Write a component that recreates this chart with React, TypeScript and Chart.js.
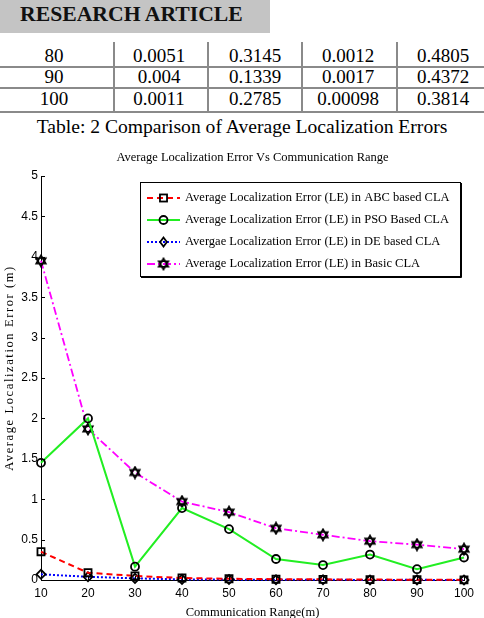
import React, { useEffect, useRef } from 'react';
import { Chart, registerables } from 'chart.js';

Chart.register(...registerables);

// ---------- data ----------
const ranges = [10, 20, 30, 40, 50, 60, 70, 80, 90, 100];
const abcErrors = [0.35, 0.09, 0.05, 0.025, 0.015, 0.01, 0.008, 0.0051, 0.004, 0.0011];
const psoErrors = [1.45, 2.0, 0.165, 0.89, 0.63, 0.26, 0.185, 0.3145, 0.1339, 0.2785];
const deErrors = [0.07, 0.04, 0.02, 0.008, 0.005, 0.003, 0.002, 0.0012, 0.0017, 0.00098];
const basicErrors = [3.95, 1.87, 1.33, 0.97, 0.84, 0.64, 0.56, 0.4805, 0.4372, 0.3814];

const seriesLabels = [
  'Average Localization Error (LE) in ABC based CLA',
  'Average Localization Error (LE) in PSO Based CLA',
  'Avergae Localization Error (LE) in DE based CLA',
  'Average Localization Error (LE) in Basic CLA',
];

const tableRows = [
  ['80', '0.0051', '0.3145', '0.0012', '0.4805'],
  ['90', '0.004', '0.1339', '0.0017', '0.4372'],
  ['100', '0.0011', '0.2785', '0.00098', '0.3814'],
];

const headerText = 'RESEARCH ARTICLE';
const captionText = 'Table: 2 Comparison of Average Localization Errors';
const chartTitle = 'Average Localization Error Vs Communication Range';
const xTitle = 'Communication Range(m)';
const yTitle = 'Average Localization Error (m)';

const SERIF = "'Liberation Serif', 'Times New Roman', serif";
const SANS = "'Liberation Sans', Arial, sans-serif";

// ---------- helpers ----------
function makeHexagram(): HTMLCanvasElement {
  const c = document.createElement('canvas');
  c.width = 14;
  c.height = 14;
  const g = c.getContext('2d')!;
  const cx = 7, cy = 7, R = 5.5;
  g.strokeStyle = '#000';
  g.lineWidth = 1.7;
  const tri = (start: number) => {
    g.beginPath();
    for (let k = 0; k < 3; k++) {
      const a = start + (k * 2 * Math.PI) / 3;
      const px = cx + R * Math.cos(a);
      const py = cy + R * Math.sin(a);
      if (k === 0) g.moveTo(px, py);
      else g.lineTo(px, py);
    }
    g.closePath();
    g.stroke();
  };
  tri(-Math.PI / 2);
  tri(Math.PI / 2);
  return c;
}

function drawMarker(ctx: CanvasRenderingContext2D, style: any, x: number, y: number, r: number) {
  ctx.save();
  ctx.strokeStyle = '#000';
  ctx.lineWidth = 1.8;
  ctx.setLineDash([]);
  if (style === 'rect') {
    const s = r * Math.SQRT1_2;
    ctx.strokeRect(x - s, y - s, 2 * s, 2 * s);
  } else if (style === 'circle') {
    ctx.beginPath();
    ctx.arc(x, y, r, 0, Math.PI * 2);
    ctx.stroke();
  } else if (style === 'rectRot') {
    ctx.beginPath();
    ctx.moveTo(x, y - r);
    ctx.lineTo(x + r * 0.75, y);
    ctx.lineTo(x, y + r);
    ctx.lineTo(x - r * 0.75, y);
    ctx.closePath();
    ctx.stroke();
  } else if (style instanceof HTMLCanvasElement) {
    ctx.drawImage(style, x - style.width / 2, y - style.height / 2);
  }
  ctx.restore();
}

const decorPlugin = {
  id: 'decor',
  afterDraw(chart: any) {
    const ctx: CanvasRenderingContext2D = chart.ctx;
    const { left, top, bottom } = chart.chartArea;
    const xs = chart.scales.x;
    const ys = chart.scales.y;
    ctx.save();
    // inward tick marks
    ctx.strokeStyle = '#000';
    ctx.lineWidth = 1;
    ctx.beginPath();
    ys.ticks.forEach((t: any) => {
      const y = Math.round(ys.getPixelForValue(t.value)) + 0.5;
      ctx.moveTo(left, y);
      ctx.lineTo(left + 4, y);
    });
    xs.ticks.forEach((t: any) => {
      const x = Math.round(xs.getPixelForValue(t.value)) + 0.5;
      ctx.moveTo(x, bottom);
      ctx.lineTo(x, bottom - 4);
    });
    ctx.stroke();

    // y axis title (letter spaced)
    ctx.save();
    ctx.translate(10, (top + bottom) / 2 - 10);
    ctx.rotate(-Math.PI / 2);
    ctx.font = `12.5px ${SERIF}`;
    (ctx as any).letterSpacing = '1.6px';
    ctx.textAlign = 'center';
    ctx.textBaseline = 'middle';
    ctx.fillStyle = '#000';
    ctx.fillText(yTitle, 0, 0);
    ctx.restore();

    // legend box
    const bx = 140, by = 42, bw = 320, bh = 94;
    ctx.fillStyle = '#fff';
    ctx.fillRect(bx, by, bw, bh);
    ctx.strokeStyle = '#000';
    ctx.lineWidth = 1;
    ctx.strokeRect(bx + 0.5, by + 0.5, bw, bh);
    ctx.beginPath();
    ctx.moveTo(bx + bw + 1.5, by + 1);
    ctx.lineTo(bx + bw + 1.5, by + bh + 1.5);
    ctx.lineTo(bx + 1, by + bh + 1.5);
    ctx.stroke();

    const rowYs = [58, 80, 102, 124];
    chart.data.datasets.forEach((ds: any, i: number) => {
      const y = rowYs[i];
      ctx.save();
      ctx.strokeStyle = ds.borderColor;
      ctx.lineWidth = ds.borderWidth;
      ctx.setLineDash(ds.borderDash || []);
      ctx.beginPath();
      ctx.moveTo(147, y);
      ctx.lineTo(180, y);
      ctx.stroke();
      ctx.restore();
      drawMarker(ctx, ds.pointStyle, 163.5, y, ds.pointRadius);
      ctx.fillStyle = '#000';
      ctx.font = `12.5px ${SERIF}`;
      ctx.textAlign = 'left';
      ctx.textBaseline = 'middle';
      ctx.fillText(ds.label, 185, y);
    });
    ctx.restore();
  },
};

function ChartView() {
  const ref = useRef<HTMLCanvasElement | null>(null);
  useEffect(() => {
    if (!ref.current) return;
    const hex = makeHexagram();
    const mk = (label: string, data: number[], color: string, dash: number[], pointStyle: any, radius: number, width: number) => ({
      label,
      data: ranges.map((x, i) => ({ x, y: data[i] })),
      borderColor: color,
      borderWidth: width,
      borderDash: dash,
      pointStyle,
      pointRadius: radius,
      pointBorderColor: '#000',
      pointBorderWidth: 1.8,
      pointBackgroundColor: 'rgba(0,0,0,0)',
      tension: 0,
      fill: false,
      clip: false as any,
    });
    const chart = new Chart(ref.current, {
      type: 'line',
      data: {
        datasets: [
          mk(seriesLabels[0], abcErrors, '#ff0000', [6, 4], 'rect', 5, 2),
          mk(seriesLabels[1], psoErrors, '#22ee22', [], 'circle', 4, 2),
          mk(seriesLabels[2], deErrors, '#0000ff', [2, 2], 'rectRot', 4.5, 2),
          mk(seriesLabels[3], basicErrors, '#ff00ff', [8, 3, 2, 3], hex, 5, 1.8),
        ] as any,
      },
      options: {
        animation: false,
        responsive: false,
        maintainAspectRatio: false,
        layout: { padding: { left: 0, right: 20, top: 0, bottom: 0 } },
        plugins: {
          legend: { display: false },
          tooltip: { enabled: false },
          title: {
            display: true,
            text: chartTitle,
            fullSize: false,
            color: '#000',
            font: { family: SERIF, size: 12.5, weight: 'normal', lineHeight: 1.2 },
            padding: { top: 10.5, bottom: 10.5 },
          },
        },
        scales: {
          x: {
            type: 'linear',
            min: 10,
            max: 100,
            grid: { display: false, drawTicks: false },
            border: { display: true, color: '#000', width: 1 },
            ticks: {
              stepSize: 10,
              color: '#000',
              font: { family: SANS, size: 12 },
              padding: 6,
              maxRotation: 0,
              autoSkip: false,
            },
            title: {
              display: true,
              text: xTitle,
              color: '#000',
              font: { family: SERIF, size: 12.5, lineHeight: 1.2 },
              padding: { top: 0, bottom: 0 },
            },
            afterFit: (s: any) => {
              s.height = 40;
            },
          },
          y: {
            min: 0,
            max: 5,
            grid: { display: false, drawTicks: false },
            border: { display: true, color: '#000', width: 1 },
            ticks: {
              stepSize: 0.5,
              color: '#000',
              font: { family: SANS, size: 12 },
              padding: 3,
              callback: (v: any) => String(v),
            },
            afterFit: (s: any) => {
              s.width = 41;
            },
          },
        },
      } as any,
      plugins: [decorPlugin],
    });
    return () => chart.destroy();
  }, []);
  return (
    <canvas
      ref={ref}
      width={484}
      height={480}
      style={{ position: 'absolute', left: 0, top: 140, width: 484, height: 480 }}
    />
  );
}

const colCenters = [54, 159, 255, 348, 443];
const rowTops = [46.4, 67.4, 89.4];
const hLines = [67, 88, 112];
const vLines = [114, 208, 302, 397];

export default function App() {
  return (
    <div
      style={{
        position: 'fixed',
        left: 0,
        top: 0,
        width: 484,
        height: 618,
        background: '#fff',
        overflow: 'hidden',
        fontFamily: SERIF,
        color: '#000',
      }}
    >
      <div style={{ position: 'absolute', left: 0, top: 0, width: 270, height: 33, background: '#c4c4c4' }} />
      <div
        style={{
          position: 'absolute',
          left: 20,
          top: 3.8,
          fontSize: 21.7,
          lineHeight: 1,
          fontWeight: 'bold',
          whiteSpace: 'nowrap',
          color: '#111',
        }}
      >
        {headerText}
      </div>
      {hLines.map((y, i) => (
        <div key={'h' + i} style={{ position: 'absolute', left: 0, top: y - 1, width: 484, height: 2, background: '#8a8a8a' }} />
      ))}
      {vLines.map((x, i) => (
        <div key={'v' + i} style={{ position: 'absolute', left: x - 0.75, top: 42, width: 1.5, height: 70, background: '#8a8a8a' }} />
      ))}
      {tableRows.map((row, r) =>
        row.map((cell, c) => (
          <div
            key={r + '-' + c}
            style={{
              position: 'absolute',
              left: colCenters[c] - 50,
              width: 100,
              top: rowTops[r],
              fontSize: 19,
              lineHeight: 1,
              textAlign: 'center',
              whiteSpace: 'nowrap',
            }}
          >
            {cell}
          </div>
        ))
      )}
      <div
        style={{
          position: 'absolute',
          left: 0,
          width: 484,
          top: 117,
          fontSize: 19.6,
          lineHeight: 1,
          textAlign: 'center',
          whiteSpace: 'nowrap',
        }}
      >
        {captionText}
      </div>
      <ChartView />
    </div>
  );
}
